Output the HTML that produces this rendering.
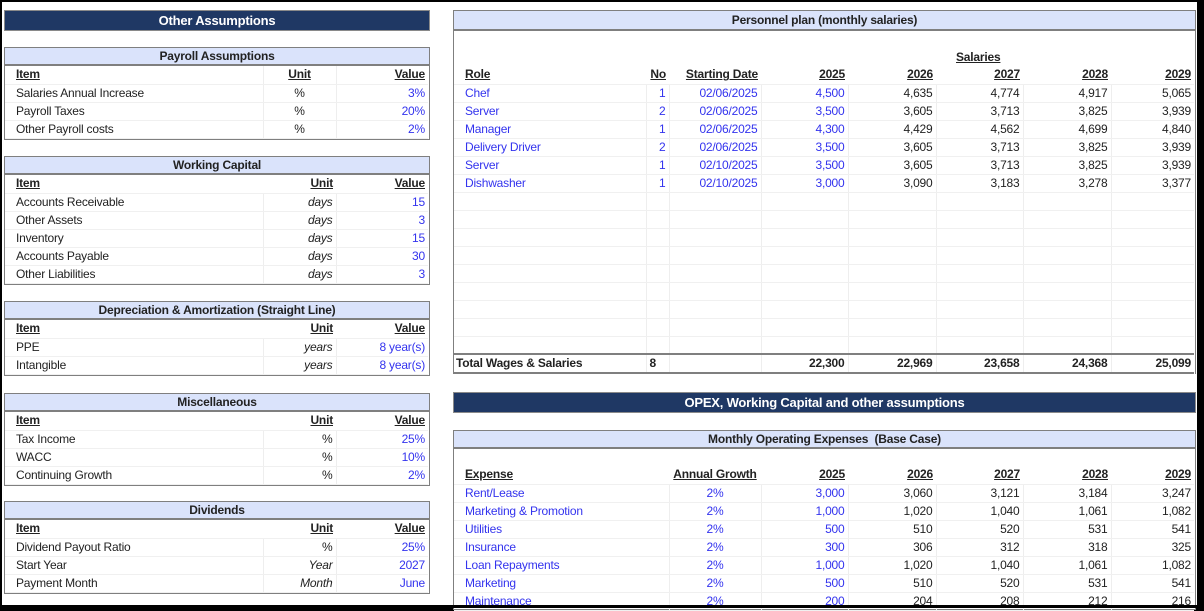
<!DOCTYPE html>
<html><head><meta charset="utf-8"><style>
*{margin:0;padding:0;box-sizing:border-box}
body{width:1204px;height:608px;background:#000;position:relative;overflow:hidden;font-family:"Liberation Sans Narrow","Liberation Sans",sans-serif;font-size:12px;color:#222;letter-spacing:-0.2px}
#pg{position:absolute;left:2px;top:2px;width:1195px;height:603px;background:#fff}
.bar{position:absolute;background:#1f3864;color:#fff;text-align:center;font-weight:bold;font-size:13px;line-height:20px;border:1px solid #8a8a8a}
.box{position:absolute;border:1.5px solid #7f7f7f;background:#fff}
.hd{background:#dae3fb;border-bottom:2px solid #7f7f7f;text-align:center;font-weight:bold;height:18px;line-height:16px}
table{border-collapse:collapse;table-layout:fixed}
td{height:18px;line-height:17px;padding:0 3px;white-space:nowrap;overflow:hidden;border-bottom:1px solid #f0f0f0}
td.s{border-left:1px solid #eee}
.b{color:#3333ee}
.r{text-align:right}.c{text-align:center}.i{font-style:italic}
.h td{font-weight:bold;text-decoration:underline}
td.l{padding-left:11px}
.tot td{font-weight:bold;border-top:2px solid #7f7f7f;border-bottom:2px solid #7f7f7f}
</style></head><body><div id="pg"></div>
<div class="bar" style="left:4px;top:10px;width:426px;height:21px">Other Assumptions</div>

<div class="box" style="left:4px;top:47px;width:426px">
<div class="hd">Payroll Assumptions</div>
<table style="width:423px"><col style="width:258px"><col style="width:73px"><col style="width:92px">
<tr class="h"><td class="l">Item</td><td class="c s">Unit</td><td class="r s">Value</td></tr>
<tr><td class="l">Salaries Annual Increase</td><td class="c s">%</td><td class="r b s">3%</td></tr>
<tr><td class="l">Payroll Taxes</td><td class="c s">%</td><td class="r b s">20%</td></tr>
<tr><td class="l">Other Payroll costs</td><td class="c s">%</td><td class="r b s">2%</td></tr>
</table></div>

<div class="box" style="left:4px;top:156px;width:426px">
<div class="hd">Working Capital</div>
<table style="width:423px"><col style="width:258px"><col style="width:73px"><col style="width:92px">
<tr class="h"><td class="l">Item</td><td class="r">Unit</td><td class="r">Value</td></tr>
<tr><td class="l">Accounts Receivable</td><td class="r i s">days</td><td class="r b s">15</td></tr>
<tr><td class="l">Other Assets</td><td class="r i s">days</td><td class="r b s">3</td></tr>
<tr><td class="l">Inventory</td><td class="r i s">days</td><td class="r b s">15</td></tr>
<tr><td class="l">Accounts Payable</td><td class="r i s">days</td><td class="r b s">30</td></tr>
<tr><td class="l">Other Liabilities</td><td class="r i s">days</td><td class="r b s">3</td></tr>
</table></div>

<div class="box" style="left:4px;top:301px;width:426px">
<div class="hd">Depreciation &amp; Amortization (Straight Line)</div>
<table style="width:423px"><col style="width:258px"><col style="width:73px"><col style="width:92px">
<tr class="h"><td class="l">Item</td><td class="r">Unit</td><td class="r">Value</td></tr>
<tr><td class="l">PPE</td><td class="r i s">years</td><td class="r b s">8 year(s)</td></tr>
<tr><td class="l">Intangible</td><td class="r i s">years</td><td class="r b s">8 year(s)</td></tr>
</table></div>

<div class="box" style="left:4px;top:393px;width:426px">
<div class="hd">Miscellaneous</div>
<table style="width:423px"><col style="width:258px"><col style="width:73px"><col style="width:92px">
<tr class="h"><td class="l">Item</td><td class="r">Unit</td><td class="r">Value</td></tr>
<tr><td class="l">Tax Income</td><td class="r s">%</td><td class="r b s">25%</td></tr>
<tr><td class="l">WACC</td><td class="r s">%</td><td class="r b s">10%</td></tr>
<tr><td class="l">Continuing Growth</td><td class="r s">%</td><td class="r b s">2%</td></tr>
</table></div>

<div class="box" style="left:4px;top:501px;width:426px">
<div class="hd">Dividends</div>
<table style="width:423px"><col style="width:258px"><col style="width:73px"><col style="width:92px">
<tr class="h"><td class="l">Item</td><td class="r">Unit</td><td class="r">Value</td></tr>
<tr><td class="l">Dividend Payout Ratio</td><td class="r s">%</td><td class="r b s">25%</td></tr>
<tr><td class="l">Start Year</td><td class="r i s">Year</td><td class="r b s">2027</td></tr>
<tr><td class="l">Payment Month</td><td class="r i s">Month</td><td class="r b s">June</td></tr>
</table></div>

<div class="box" style="left:453px;top:10px;width:743px;height:364px;border-bottom:none">
<div class="hd" style="height:20px;line-height:18px">Personnel plan (monthly salaries)</div>
<div style="position:absolute;left:502px;top:39px;font-weight:bold;text-decoration:underline">Salaries</div>
<table style="width:740px;margin-top:35px"><col style="width:192px"><col style="width:23px"><col style="width:92px"><col style="width:87px"><col style="width:88px"><col style="width:87px"><col style="width:88px"><col style="width:83px">
<tr class="h"><td class="l">Role</td><td class="r">No</td><td class="r">Starting Date</td><td class="r">2025</td><td class="r">2026</td><td class="r">2027</td><td class="r">2028</td><td class="r">2029</td></tr>
<tr><td class="l b">Chef</td><td class="r b s">1</td><td class="r b s">02/06/2025</td><td class="r b s">4,500</td><td class="r s">4,635</td><td class="r s">4,774</td><td class="r s">4,917</td><td class="r s">5,065</td></tr>
<tr><td class="l b">Server</td><td class="r b s">2</td><td class="r b s">02/06/2025</td><td class="r b s">3,500</td><td class="r s">3,605</td><td class="r s">3,713</td><td class="r s">3,825</td><td class="r s">3,939</td></tr>
<tr><td class="l b">Manager</td><td class="r b s">1</td><td class="r b s">02/06/2025</td><td class="r b s">4,300</td><td class="r s">4,429</td><td class="r s">4,562</td><td class="r s">4,699</td><td class="r s">4,840</td></tr>
<tr><td class="l b">Delivery Driver</td><td class="r b s">2</td><td class="r b s">02/06/2025</td><td class="r b s">3,500</td><td class="r s">3,605</td><td class="r s">3,713</td><td class="r s">3,825</td><td class="r s">3,939</td></tr>
<tr><td class="l b">Server</td><td class="r b s">1</td><td class="r b s">02/10/2025</td><td class="r b s">3,500</td><td class="r s">3,605</td><td class="r s">3,713</td><td class="r s">3,825</td><td class="r s">3,939</td></tr>
<tr><td class="l b">Dishwasher</td><td class="r b s">1</td><td class="r b s">02/10/2025</td><td class="r b s">3,000</td><td class="r s">3,090</td><td class="r s">3,183</td><td class="r s">3,278</td><td class="r s">3,377</td></tr>
<tr><td></td><td class="s"></td><td class="s"></td><td class="s"></td><td class="s"></td><td class="s"></td><td class="s"></td><td class="s"></td></tr>
<tr><td></td><td class="s"></td><td class="s"></td><td class="s"></td><td class="s"></td><td class="s"></td><td class="s"></td><td class="s"></td></tr>
<tr><td></td><td class="s"></td><td class="s"></td><td class="s"></td><td class="s"></td><td class="s"></td><td class="s"></td><td class="s"></td></tr>
<tr><td></td><td class="s"></td><td class="s"></td><td class="s"></td><td class="s"></td><td class="s"></td><td class="s"></td><td class="s"></td></tr>
<tr><td></td><td class="s"></td><td class="s"></td><td class="s"></td><td class="s"></td><td class="s"></td><td class="s"></td><td class="s"></td></tr>
<tr><td></td><td class="s"></td><td class="s"></td><td class="s"></td><td class="s"></td><td class="s"></td><td class="s"></td><td class="s"></td></tr>
<tr><td></td><td class="s"></td><td class="s"></td><td class="s"></td><td class="s"></td><td class="s"></td><td class="s"></td><td class="s"></td></tr>
<tr><td></td><td class="s"></td><td class="s"></td><td class="s"></td><td class="s"></td><td class="s"></td><td class="s"></td><td class="s"></td></tr>
<tr><td></td><td class="s"></td><td class="s"></td><td class="s"></td><td class="s"></td><td class="s"></td><td class="s"></td><td class="s"></td></tr>
<tr class="tot"><td style="padding-left:2px">Total Wages &amp; Salaries</td><td class="s">8</td><td class="s"></td><td class="r s">22,300</td><td class="r s">22,969</td><td class="r s">23,658</td><td class="r s">24,368</td><td class="r s">25,099</td></tr>
</table></div>

<div class="bar" style="left:453px;top:392px;width:743px;height:21px;font-size:13px">OPEX, Working Capital and other assumptions</div>

<div class="box" style="left:453px;top:430px;width:743px;height:180px">
<div class="hd">Monthly Operating Expenses&nbsp; (Base Case)</div>
<table style="width:740px;margin-top:17px"><col style="width:215px"><col style="width:92px"><col style="width:87px"><col style="width:88px"><col style="width:87px"><col style="width:88px"><col style="width:83px">
<tr class="h"><td class="l">Expense</td><td class="c">Annual Growth</td><td class="r">2025</td><td class="r">2026</td><td class="r">2027</td><td class="r">2028</td><td class="r">2029</td></tr>
<tr><td class="l b">Rent/Lease</td><td class="c b s">2%</td><td class="r b s">3,000</td><td class="r s">3,060</td><td class="r s">3,121</td><td class="r s">3,184</td><td class="r s">3,247</td></tr>
<tr><td class="l b">Marketing &amp; Promotion</td><td class="c b s">2%</td><td class="r b s">1,000</td><td class="r s">1,020</td><td class="r s">1,040</td><td class="r s">1,061</td><td class="r s">1,082</td></tr>
<tr><td class="l b">Utilities</td><td class="c b s">2%</td><td class="r b s">500</td><td class="r s">510</td><td class="r s">520</td><td class="r s">531</td><td class="r s">541</td></tr>
<tr><td class="l b">Insurance</td><td class="c b s">2%</td><td class="r b s">300</td><td class="r s">306</td><td class="r s">312</td><td class="r s">318</td><td class="r s">325</td></tr>
<tr><td class="l b">Loan Repayments</td><td class="c b s">2%</td><td class="r b s">1,000</td><td class="r s">1,020</td><td class="r s">1,040</td><td class="r s">1,061</td><td class="r s">1,082</td></tr>
<tr><td class="l b">Marketing</td><td class="c b s">2%</td><td class="r b s">500</td><td class="r s">510</td><td class="r s">520</td><td class="r s">531</td><td class="r s">541</td></tr>
<tr><td class="l b">Maintenance</td><td class="c b s">2%</td><td class="r b s">200</td><td class="r s">204</td><td class="r s">208</td><td class="r s">212</td><td class="r s">216</td></tr>
</table></div>
<div style="position:absolute;left:0;top:605px;width:1204px;height:3px;background:#000"></div>
<div style="position:absolute;left:1197px;top:0;width:7px;height:608px;background:#000"></div>
</body></html>
